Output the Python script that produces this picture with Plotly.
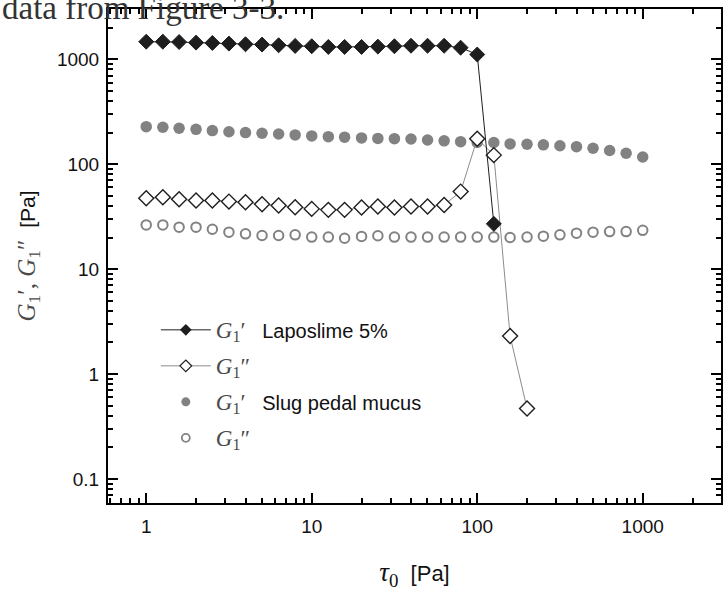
import plotly.graph_objects as go

# Applied stress amplitude tau_0 [Pa] (0.1-decade sweep)
tau = [1.0, 1.26, 1.58, 2.0, 2.51, 3.16, 3.98, 5.01, 6.31, 7.94,
       10.0, 12.6, 15.8, 20.0, 25.1, 31.6, 39.8, 50.1, 63.1, 79.4,
       100.0, 126.0, 158.0, 200.0, 251.0, 316.0, 398.0, 501.0, 631.0, 794.0, 1000.0]

# Laposlime 5% (first-harmonic moduli)
lap_tau_g1p = tau[:22]
lap_g1p = [1470, 1470, 1460, 1440, 1430, 1410, 1390, 1380, 1360, 1340,
           1330, 1310, 1310, 1310, 1320, 1330, 1345, 1345, 1345, 1290,
           1110, 27]
lap_tau_g1pp = tau[:24]
lap_g1pp = [47.3, 48.5, 46.4, 45.0, 45.0, 44.0, 43.4, 41.6, 40.4, 38.9,
            37.5, 36.7, 36.7, 38.6, 39.5, 38.6, 39.5, 39.5, 40.9, 54.8,
            175, 122, 2.3, 0.47]

# Slug pedal mucus (first-harmonic moduli)
slug_g1p = [228, 225, 220, 215, 209, 204, 200, 197, 194, 190,
            186, 183, 181, 178, 176, 175, 174, 170, 167, 164,
            161, 161, 156, 155, 153, 150, 147, 142, 135, 127, 117]
slug_g1pp = [26.4, 26.4, 25.1, 25.1, 24.0, 22.5, 21.7, 20.9, 20.9, 21.2,
             20.2, 20.2, 19.7, 20.5, 20.8, 20.2, 20.2, 20.2, 20.2, 20.2,
             20.2, 20.2, 20.0, 20.2, 20.6, 21.2, 22.0, 22.5, 22.8, 22.8, 23.4]

x_tickvals = [1, 10, 100, 1000]
x_ticktext = ["1", "10", "100", "1000"]
y_tickvals = [0.1, 1, 10, 100, 1000]
y_ticktext = ["0.1", "1", "10", "100", "1000"]

SANS = "Liberation Sans, Arial, sans-serif"
SERIF = "Liberation Serif, Times New Roman, serif"
BLACK = "#1e1e1e"
GREY = "#828282"


def gsym(primes, size=23):
    return ('<span style="font-family:Liberation Serif;font-size:%dpx;color:#4a4a4a">'
            '<i>G</i><sub>1</sub>%s</span>' % (size, primes))


fig = go.Figure()

# data traces
fig.add_trace(go.Scatter(
    x=tau, y=slug_g1p, mode="markers", showlegend=False,
    marker=dict(symbol="circle", size=11.5, color=GREY, line=dict(width=0))))
fig.add_trace(go.Scatter(
    x=tau, y=slug_g1pp, mode="markers", showlegend=False,
    marker=dict(symbol="circle-open", size=9.5, color=GREY, line=dict(width=2))))
fig.add_trace(go.Scatter(
    x=lap_tau_g1pp, y=lap_g1pp, mode="lines+markers", showlegend=False,
    line=dict(color="#8c8c8c", width=1),
    marker=dict(symbol="diamond", size=11.5, color="white",
                line=dict(color=BLACK, width=1.4))))
fig.add_trace(go.Scatter(
    x=lap_tau_g1p, y=lap_g1p, mode="lines+markers", showlegend=False,
    line=dict(color=BLACK, width=1),
    marker=dict(symbol="diamond", size=11.5, color=BLACK,
                line=dict(color=BLACK, width=1))))

# legend keys
legend_entries = [
    dict(name=gsym("′") + "   Laposlime 5%", mode="lines+markers",
         line=dict(color=BLACK, width=1),
         marker=dict(symbol="diamond", size=9, color=BLACK, line=dict(width=0))),
    dict(name=gsym("″"), mode="lines+markers",
         line=dict(color="#8c8c8c", width=1),
         marker=dict(symbol="diamond", size=9, color="white",
                     line=dict(color=BLACK, width=1.2))),
    dict(name=gsym("′") + "   Slug pedal mucus", mode="markers",
         marker=dict(symbol="circle", size=9, color=GREY, line=dict(width=0))),
    dict(name=gsym("″"), mode="markers",
         marker=dict(symbol="circle-open", size=8, color=GREY, line=dict(width=1.8))),
]
for i, e in enumerate(legend_entries):
    fig.add_trace(go.Scatter(x=[None], y=[None], legendgroup=f"g{i}",
                             showlegend=True, **e))

axis_common = dict(
    type="log", showline=True, linewidth=2, linecolor="black",
    mirror="allticks", ticks="inside", ticklen=10, tickwidth=1.5,
    tickcolor="black", showgrid=False, zeroline=False,
    tickfont=dict(family=SANS, size=19, color="#111"),
    minor=dict(ticks="inside", ticklen=5, tickwidth=1.5, tickcolor="black",
               dtick="D1", showgrid=False),
)

fig.update_layout(
    width=727, height=592,
    margin=dict(l=108, r=4, t=9, b=89),
    plot_bgcolor="white", paper_bgcolor="white",
    xaxis=dict(**axis_common, range=[-0.231, 3.473],
               tickvals=x_tickvals, ticktext=x_ticktext, ticklabelstandoff=5,
               title=dict(text='<span style="font-family:Liberation Serif;font-size:27px"><i>τ</i><sub>0</sub></span>  [Pa]',
                          font=dict(family=SANS, size=22, color="#111"),
                          standoff=30)),
    yaxis=dict(**axis_common, range=[-1.229, 3.479],
               tickvals=y_tickvals, ticktext=y_ticktext, ticklabelstandoff=3,
               title=dict(text='<span style="font-family:Liberation Serif;font-size:25px;color:#4a4a4a"><i>G</i><sub>1</sub>′, <i>G</i><sub>1</sub>″</span>  [Pa]',
                          font=dict(family=SANS, size=21, color="#111"),
                          standoff=16)),
    legend=dict(x=0.078, y=0.39, xanchor="left", yanchor="top",
                bgcolor="rgba(0,0,0,0)", borderwidth=0,
                font=dict(family=SANS, size=20, color="#111"),
                tracegroupgap=7, itemwidth=50),
    annotations=[dict(
        text="data from Figure 3-3.", xref="paper", yref="paper",
        x=-108 / 615, y=1.002, xanchor="left", yanchor="middle",
        showarrow=False, font=dict(family=SERIF, size=33, color="#333"))],
)

fig.write_html("out.html")
